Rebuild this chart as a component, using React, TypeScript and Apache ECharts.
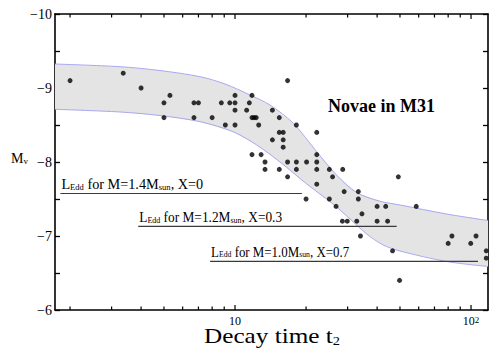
import { useEffect, useRef } from 'react';
import * as echarts from 'echarts';

// axis ranges
const xMin = 1.727;
const xMax = 118;
const yMin = -10;
const yMax = -6;

// novae: decay time t2 (days) and absolute magnitude Mv
const novaT = [
  3.36,
  2.0, 16.7,
  4.0,
  5.3, 10.0, 11.8,
  5.0, 6.7, 7.0, 8.75, 9.5, 10.0, 11.5,
  10.0, 11.2, 14.4,
  5.0, 6.7, 8.0, 11.8, 12.05, 12.3, 15.4,
  9.1, 10.0, 12.6, 18.2,
  15.4, 16.0, 22.2,
  14.4, 16.0,
  16.0,
  11.8, 12.9, 22.2,
  13.4, 16.7, 18.2, 20.1, 22.2,
  13.4, 15.4, 18.2, 22.2, 25.1, 28.6,
  16.7, 25.9, 49.2,
  22.2,
  29.0, 33.3,
  20.0, 25.1, 33.3,
  26.8, 40.0, 43.5, 58.6,
  34.5,
  28.5, 29.9, 32.8, 40.0, 44.3,
  34.0, 83.0, 105,
  80.0, 99.7,
  46.5, 116,
  116,
  49.8,
];
const novaM = [
  -9.2,
  -9.1, -9.1,
  -9.0,
  -8.9, -8.9, -8.9,
  -8.8, -8.8, -8.8, -8.8, -8.8, -8.8, -8.8,
  -8.7, -8.7, -8.7,
  -8.6, -8.6, -8.6, -8.6, -8.6, -8.6, -8.6,
  -8.5, -8.5, -8.5, -8.5,
  -8.4, -8.4, -8.4,
  -8.3, -8.3,
  -8.2,
  -8.1, -8.1, -8.1,
  -8.0, -8.0, -8.0, -8.0, -8.0,
  -7.9, -7.9, -7.9, -7.9, -7.9, -7.9,
  -7.8, -7.8, -7.8,
  -7.7,
  -7.6, -7.6,
  -7.5, -7.5, -7.5,
  -7.4, -7.4, -7.4, -7.4,
  -7.3,
  -7.2, -7.2, -7.2, -7.2, -7.2,
  -7.0, -7.0, -7.0,
  -6.9, -6.9,
  -6.8, -6.8,
  -6.7,
  -6.4,
];

// shaded band: upper and lower edges
const bandUpperT = [1.727, 3.256, 4.81, 7.11, 9.07, 11.58, 14.07, 17.66, 22.19, 26.97, 32.79, 41.15, 50.03, 78.9, 118];
const bandUpperM = [-9.324, -9.288, -9.236, -9.153, -9.054, -8.905, -8.77, -8.523, -8.139, -7.822, -7.586, -7.47, -7.419, -7.297, -7.209];
const bandLowerT = [1.727, 3.256, 4.81, 7.11, 9.81, 12.36, 15.51, 20.13, 26.02, 30.71, 36.14, 42.5, 50.03, 78.9, 118];
const bandLowerM = [-8.712, -8.676, -8.628, -8.545, -8.409, -8.23, -8.0, -7.703, -7.432, -7.23, -7.027, -6.878, -6.797, -6.655, -6.588];

// Eddington luminosity lines
const eddMass = ['1.4', '1.2', '1.0'];
const eddX = ['0', '0.3', '0.7'];
const eddStartT = [1.82, 3.89, 7.84];
const eddEndT = [19.2, 48.4, 107];
const eddM = [-7.574, -7.131, -6.658];

// x tick positions
const xMinorTicks = [2, 3, 4, 5, 6, 7, 8, 9, 20, 30, 40, 50, 60, 70, 80, 90];
const xMajorTicks = [10, 100];

// label styling (horizontal compression of each Eddington label)
const EDD_LABEL_SCALE = [0.95, 0.89, 0.86];
const FONT = 'Liberation Serif';

export default function App() {
  const ref = useRef<HTMLDivElement>(null);

  useEffect(() => {
    if (!ref.current) return;
    const chart = echarts.init(ref.current, null, { renderer: 'svg' });

    const tickData = [
      ...xMinorTicks.map((v) => [v, 0]),
      ...xMajorTicks.map((v) => [v, 1]),
    ];

    const option: any = {
      animation: false,
      textStyle: { fontFamily: FONT },
      grid: { left: 55, top: 14, width: 433, height: 296, containLabel: false, outerBoundsMode: 'none' },
      xAxis: [
        {
          type: 'log',
          logBase: 10,
          min: xMin,
          max: xMax,
          position: 'bottom',
          axisLine: { show: true, lineStyle: { color: '#000', width: 1.6 } },
          axisTick: { show: false },
          minorTick: { show: false },
          splitLine: { show: false },
          axisLabel: {
            show: true,
            margin: 5,
            color: '#000',
            fontFamily: FONT,
            fontSize: 12,
            showMinLabel: false,
            showMaxLabel: false,
            formatter: (v: number) => {
              const e = Math.log10(v);
              const r = Math.round(e);
              if (Math.abs(e - r) > 1e-6) return '';
              if (r === 1) return '10';
              if (r === 2) return '10{sup|2}';
              return '';
            },
            rich: {
              sup: { fontSize: 9, verticalAlign: 'top', lineHeight: 6, fontFamily: FONT, color: '#000' },
            },
          },
        },
        {
          type: 'log',
          logBase: 10,
          min: xMin,
          max: xMax,
          position: 'top',
          axisLine: { show: true, lineStyle: { color: '#000', width: 1.6 } },
          axisTick: { show: false },
          axisLabel: { show: false },
          splitLine: { show: false },
        },
      ],
      yAxis: [
        {
          type: 'value',
          min: yMin,
          max: yMax,
          interval: 0.5,
          inverse: true,
          position: 'left',
          axisLine: { show: true, lineStyle: { color: '#000', width: 1.6 } },
          axisTick: { show: true, inside: true, length: 5, lineStyle: { color: '#000', width: 1.3 } },
          splitLine: { show: false },
          axisLabel: {
            margin: 3,
            color: '#000',
            fontFamily: FONT,
            fontSize: 14,
            formatter: (v: number) => (Number.isInteger(v) ? '\u2212' + Math.abs(v) : ''),
          },
        },
        {
          type: 'value',
          min: yMin,
          max: yMax,
          interval: 0.5,
          inverse: true,
          position: 'right',
          axisLine: { show: true, lineStyle: { color: '#000', width: 1.6 } },
          axisTick: { show: true, inside: true, length: 5, lineStyle: { color: '#000', width: 1.3 } },
          splitLine: { show: false },
          axisLabel: { show: false },
        },
      ],
      graphic: [
        {
          type: 'text',
          x: 328,
          y: 105.5,
          style: {
            text: 'Novae in M31',
            fontFamily: FONT,
            fontSize: 18,
            fontWeight: 'bold',
            fill: '#000',
            align: 'left',
            verticalAlign: 'middle',
          },
        },
        {
          type: 'text',
          x: 11,
          y: 158,
          style: {
            text: '{m|M}{s|v}',
            fill: '#000',
            align: 'left',
            verticalAlign: 'middle',
            rich: {
              m: { fontSize: 14, fontFamily: FONT, lineHeight: 14, fill: '#000' },
              s: { fontSize: 9, fontFamily: FONT, lineHeight: 5, verticalAlign: 'bottom', fill: '#000' },
            },
          },
        },
        {
          type: 'text',
          x: 272,
          y: 336,
          scaleX: 1.2,
          style: {
            text: '{m|Decay time t}{s|2}',
            fill: '#000',
            align: 'center',
            verticalAlign: 'middle',
            rich: {
              m: { fontSize: 21, fontFamily: FONT, lineHeight: 21, fill: '#000' },
              s: { fontSize: 12, fontFamily: FONT, lineHeight: 7, verticalAlign: 'bottom', fill: '#000' },
            },
          },
        },
      ],
      series: [
        {
          type: 'custom',
          name: 'band',
          xAxisIndex: 0,
          yAxisIndex: 0,
          z: 1,
          clip: true,
          data: [[10, -8]],
          renderItem: (params: any, api: any) => {
            const up = bandUpperT.map((t, i) => api.coord([t, bandUpperM[i]]));
            const lo = bandLowerT.map((t, i) => api.coord([t, bandLowerM[i]]));
            const poly = [...up, ...lo.slice().reverse()];
            return {
              type: 'group',
              children: [
                { type: 'polygon', shape: { points: poly, smooth: 0 }, style: { fill: '#e4e4e4', stroke: 'none' } },
                { type: 'polyline', shape: { points: up, smooth: 0.3 }, style: { stroke: '#a8a8f0', lineWidth: 1, fill: 'none' } },
                { type: 'polyline', shape: { points: lo, smooth: 0.3 }, style: { stroke: '#a8a8f0', lineWidth: 1, fill: 'none' } },
              ],
            };
          },
        },
        {
          type: 'custom',
          name: 'xticks',
          xAxisIndex: 0,
          yAxisIndex: 0,
          z: 5,
          clip: false,
          data: tickData,
          renderItem: (params: any, api: any) => {
            const v = api.value(0);
            const major = api.value(1) === 1;
            const b = api.coord([v, yMax]);
            const t = api.coord([v, yMin]);
            const len = major ? 5 : 3.5;
            return {
              type: 'group',
              children: [
                { type: 'line', shape: { x1: b[0], y1: b[1], x2: b[0], y2: b[1] - len }, style: { stroke: '#000', lineWidth: 1.2 } },
                { type: 'line', shape: { x1: t[0], y1: t[1], x2: t[0], y2: t[1] + len }, style: { stroke: '#000', lineWidth: 1.2 } },
              ],
            };
          },
        },
        {
          type: 'custom',
          name: 'eddington',
          xAxisIndex: 0,
          yAxisIndex: 0,
          z: 3,
          clip: false,
          data: eddM.map((m, i) => [eddStartT[i], m, eddEndT[i], i]),
          renderItem: (params: any, api: any) => {
            const i = api.value(3);
            const p1 = api.coord([api.value(0), api.value(1)]);
            const p2 = api.coord([api.value(2), api.value(1)]);
            return {
              type: 'group',
              children: [
                { type: 'line', shape: { x1: p1[0], y1: p1[1], x2: p2[0], y2: p2[1] }, style: { stroke: '#3a3a3a', lineWidth: 1.2 } },
                {
                  type: 'text',
                  x: p1[0] + 1,
                  y: p1[1] - 2,
                  scaleX: EDD_LABEL_SCALE[i],
                  style: {
                    text: `{n|L}{s|Edd}{n| for M=${eddMass[i]}M}{s|sun}{n|, X=${eddX[i]}}`,
                    align: 'left',
                    verticalAlign: 'bottom',
                    fill: '#000',
                    rich: {
                      n: { fontSize: 15, fontFamily: FONT, lineHeight: 15, fill: '#000' },
                      s: { fontSize: 9, fontFamily: FONT, lineHeight: 6, verticalAlign: 'bottom', fill: '#000' },
                    },
                  },
                },
              ],
            };
          },
        },
        {
          type: 'scatter',
          name: 'novae',
          xAxisIndex: 0,
          yAxisIndex: 0,
          z: 4,
          symbol: 'circle',
          symbolSize: 5,
          itemStyle: { color: '#000' },
          data: novaT.map((t, i) => [t, novaM[i]]),
        },
      ],
    };

    chart.setOption(option);
    return () => chart.dispose();
  }, []);

  return <div ref={ref} style={{ position: 'absolute', left: 0, top: 0, width: 493, height: 350 }} />;
}
